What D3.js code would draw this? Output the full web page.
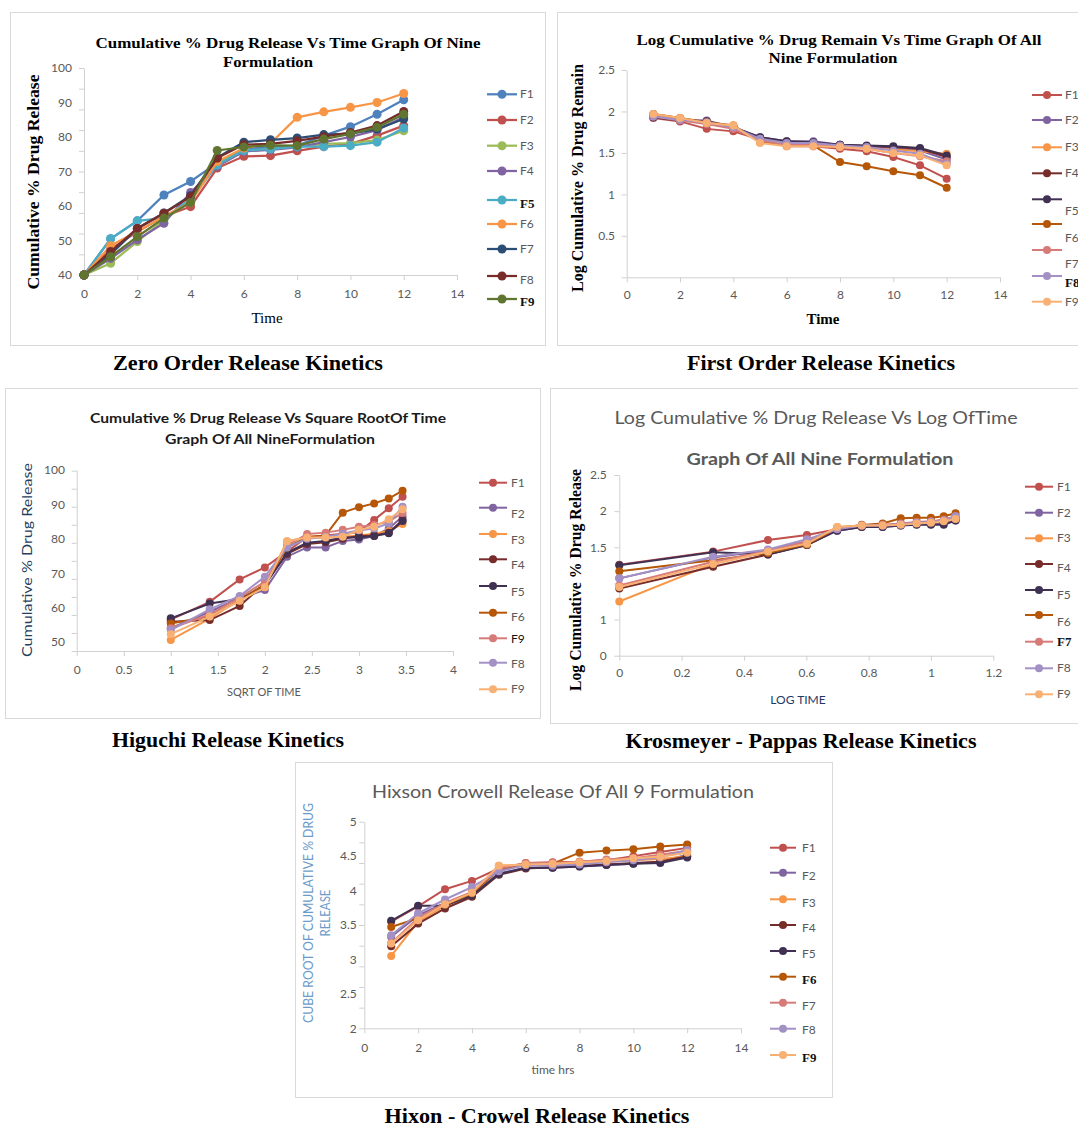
<!DOCTYPE html>
<html lang="en">
<head>
<meta charset="UTF-8">
<title>Release Kinetics of Nine Formulations</title>
<script src="https://d3js.org/d3.v7.min.js"></script>
<style>
  body { margin: 0; background: #fff; }
  svg { display: block; }
</style>
</head>
<body>
<svg id="fig" width="1078" height="1129"></svg>
<script>
// ---- data ----
const names = ["F1", "F2", "F3", "F4", "F5", "F6", "F7", "F8", "F9"];

const timeZero = [0, 1, 2, 3, 4, 5, 6, 7, 8, 9, 10, 11, 12];
const timeHrs = [1, 2, 3, 4, 5, 6, 7, 8, 9, 10, 11, 12];
const sqrtTime = [1, 1.414, 1.732, 2, 2.236, 2.449, 2.646, 2.828, 3, 3.162, 3.317, 3.464];
const logTime = [0, 0.301, 0.477, 0.602, 0.699, 0.778, 0.845, 0.903, 0.954, 1, 1.041, 1.079];

// cumulative % drug release vs time (F1..F9)
const zeroOrder = [
  [40, 50.5, 55.7, 63.2, 67.1, 72.5, 76.5, 77, 77.5, 80.4, 83, 86.6, 90.8],
  [40, 47.5, 52.5, 57, 59.8, 71, 74.4, 74.6, 76, 77.2, 78, 80.4, 83.3],
  [40, 43.4, 49.7, 56, 61.5, 72.5, 76, 76.5, 77.2, 78, 78.2, 79.1, 81.8],
  [40, 44.8, 50.2, 55, 63.9, 71.5, 75.8, 76.3, 77, 78.5, 80, 82, 85.8],
  [40, 50.5, 55.7, 56.5, 62, 71.9, 76.1, 76.5, 77.2, 77.2, 77.5, 78.5, 82.6],
  [40, 48.5, 52.6, 57, 61, 72.9, 76.8, 78.2, 85.7, 87.3, 88.6, 90, 92.6],
  [40, 46, 53.5, 58, 63, 74, 78.5, 79.2, 79.7, 80.7, 81, 82.3, 85.2],
  [40, 46.8, 53.5, 57.9, 62.7, 73.9, 77.8, 78, 78.9, 80.1, 81.3, 83.3, 87.4],
  [40, 45.3, 51.1, 56.5, 61, 76.1, 77.1, 77.6, 77.5, 79.4, 80.9, 82.8, 86.6]
];

// log cumulative % drug remain vs time
const firstOrder = [
  [1.92, 1.88, 1.79, 1.76, 1.66, 1.58, 1.58, 1.55, 1.52, 1.45, 1.35, 1.19],
  [1.94, 1.90, 1.89, 1.81, 1.69, 1.64, 1.64, 1.60, 1.58, 1.56, 1.53, 1.42],
  [1.97, 1.92, 1.87, 1.83, 1.63, 1.59, 1.59, 1.58, 1.56, 1.54, 1.52, 1.49],
  [1.93, 1.90, 1.88, 1.80, 1.68, 1.63, 1.62, 1.60, 1.58, 1.57, 1.55, 1.45],
  [1.93, 1.89, 1.88, 1.81, 1.69, 1.64, 1.63, 1.60, 1.59, 1.58, 1.56, 1.47],
  [1.97, 1.92, 1.87, 1.83, 1.63, 1.59, 1.59, 1.39, 1.34, 1.28, 1.23, 1.08],
  [1.94, 1.89, 1.85, 1.79, 1.65, 1.60, 1.60, 1.57, 1.55, 1.50, 1.46, 1.40],
  [1.94, 1.90, 1.87, 1.81, 1.67, 1.62, 1.62, 1.59, 1.57, 1.53, 1.49, 1.37],
  [1.97, 1.92, 1.86, 1.83, 1.62, 1.58, 1.58, 1.57, 1.55, 1.50, 1.47, 1.35]
];

// cumulative % drug release vs square root of time
const higuchi = [
  [56.5, 61.7, 68.2, 71.7, 76.3, 80.5, 81, 81.5, 82, 85.5, 88.9, 92.2],
  [54, 58.8, 62.8, 65.1, 74.8, 77.5, 77.5, 79.4, 79.8, 80.8, 83, 86.5],
  [50.6, 56.8, 62.3, 66, 79.3, 80.4, 80.4, 80.6, 81, 81.5, 82.3, 84.3],
  [55.9, 56.4, 60.5, 67, 75.6, 78.5, 79, 80, 80.8, 81, 81.8, 85.5],
  [56.9, 61.2, 62.5, 66.5, 76, 78.9, 79.4, 80.4, 80.4, 80.8, 81.6, 85.2],
  [55.4, 57.5, 62, 66.8, 77.5, 80.5, 81, 87.6, 89.2, 90.3, 91.7, 94],
  [54, 58, 63, 67.5, 78, 81.4, 81.8, 82.6, 83.5, 84, 85, 87.5],
  [53.5, 59.5, 63.4, 69, 77.5, 80, 80.5, 81.5, 82.5, 83, 84.5, 89.3],
  [52.3, 57.4, 62, 65.9, 79.3, 80.4, 80.4, 80.6, 82.6, 83.5, 85.7, 88.6]
];

// log cumulative % drug release vs log time
const korsmeyer = [
  [1.26, 1.44, 1.60, 1.67, 1.75, 1.79, 1.80, 1.83, 1.84, 1.85, 1.88, 1.92],
  [1.07, 1.36, 1.46, 1.58, 1.73, 1.78, 1.78, 1.80, 1.82, 1.82, 1.84, 1.87],
  [0.75, 1.27, 1.44, 1.55, 1.78, 1.80, 1.80, 1.81, 1.83, 1.84, 1.86, 1.89],
  [0.93, 1.23, 1.40, 1.53, 1.74, 1.79, 1.79, 1.81, 1.83, 1.84, 1.86, 1.90],
  [1.25, 1.43, 1.40, 1.53, 1.73, 1.78, 1.78, 1.80, 1.81, 1.81, 1.81, 1.87],
  [1.17, 1.32, 1.42, 1.54, 1.76, 1.81, 1.83, 1.90, 1.91, 1.91, 1.93, 1.97],
  [0.97, 1.30, 1.45, 1.58, 1.76, 1.80, 1.81, 1.83, 1.85, 1.86, 1.88, 1.93],
  [1.07, 1.37, 1.47, 1.61, 1.75, 1.80, 1.80, 1.82, 1.84, 1.85, 1.87, 1.93],
  [0.95, 1.27, 1.44, 1.55, 1.78, 1.80, 1.80, 1.81, 1.83, 1.84, 1.86, 1.89]
];

// cube root of cumulative % drug release vs time
const hixson = [
  [3.55, 3.77, 4.02, 4.14, 4.32, 4.40, 4.41, 4.42, 4.44, 4.50, 4.56, 4.62],
  [3.33, 3.64, 3.82, 3.94, 4.25, 4.33, 4.33, 4.35, 4.37, 4.39, 4.42, 4.52],
  [3.05, 3.55, 3.78, 3.96, 4.36, 4.38, 4.39, 4.40, 4.42, 4.44, 4.46, 4.50],
  [3.19, 3.52, 3.74, 3.91, 4.23, 4.32, 4.34, 4.36, 4.38, 4.40, 4.42, 4.50],
  [3.56, 3.78, 3.78, 3.93, 4.24, 4.33, 4.33, 4.35, 4.37, 4.39, 4.40, 4.48],
  [3.47, 3.60, 3.79, 3.96, 4.30, 4.37, 4.39, 4.55, 4.58, 4.60, 4.64, 4.67],
  [3.24, 3.60, 3.82, 3.98, 4.32, 4.40, 4.40, 4.42, 4.45, 4.47, 4.52, 4.58],
  [3.35, 3.67, 3.87, 4.05, 4.28, 4.37, 4.36, 4.38, 4.41, 4.44, 4.48, 4.59],
  [3.23, 3.57, 3.80, 3.97, 4.36, 4.38, 4.39, 4.41, 4.43, 4.47, 4.49, 4.55]
];

// tick labels
const ticks0to14 = [0, 2, 4, 6, 8, 10, 12, 14];
const sqrtTicks = [0, 0.5, 1, 1.5, 2, 2.5, 3, 3.5, 4];
const logTicks = [0, 0.2, 0.4, 0.6, 0.8, 1, 1.2];
const zeroYLabels = [40, 50, 60, 70, 80, 90, 100];
const firstYLabels = [0.5, 1, 1.5, 2, 2.5];
const higuchiYLabels = [50, 60, 70, 80, 90, 100];
const korsYTicks = [0, 0.5, 1, 1.5, 2, 2.5];
const korsYText = ["0", "1", "", "1.5", "2", "2.5"];
const hixsonYLabels = [2, 2.5, 3, 3.5, 4, 4.5, 5];
const higuchiLegend = ["F1", "F2", "F3", "F4", "F5", "F6", "F9", "F8", "F9"];

const zeroColors = ["#4F81BD", "#C0504D", "#9BBB59", "#8064A2", "#4BACC6", "#F79646", "#2C4D75", "#772C2A", "#5F7530"];
const kinColors = ["#C0504D", "#8064A2", "#F79646", "#772C2A", "#403152", "#B65708", "#D77B78", "#A391C6", "#F9B074"];

// ---- drawing ----
const SERIF = '"Liberation Serif", "Times New Roman", serif';
const SANS = 'Lato, "Liberation Sans", sans-serif';
const svg = d3.select("#fig");

function label(g, o) {
  const t = g.append("text")
    .attr("x", o.x).attr("y", o.y)
    .attr("text-anchor", o.anchor || "middle")
    .attr("font-family", o.font || SANS)
    .attr("font-size", o.size || 12)
    .attr("font-weight", o.weight || "normal")
    .attr("fill", o.color || "#000")
    .text(o.text);
  if (o.len) t.attr("textLength", o.len).attr("lengthAdjust", "spacingAndGlyphs");
  if (o.rotate) t.attr("transform", `rotate(-90,${o.x},${o.y})`);
  return t;
}

function styleAxis(a) {
  a.select(".domain").attr("stroke", "#d0d0d0");
  a.selectAll(".tick line").attr("stroke", "#d0d0d0");
  a.selectAll(".tick text")
    .attr("fill", "#595959")
    .attr("font-family", SANS)
    .attr("font-size", 12);
}

function drawPanel(p) {
  const g = svg.append("g");
  g.append("rect")
    .attr("x", p.box[0] + 0.5).attr("y", p.box[1] + 0.5)
    .attr("width", p.box[2] - p.box[0]).attr("height", p.box[3] - p.box[1])
    .attr("fill", "#fff").attr("stroke", "#d9d9d9");

  const x = d3.scaleLinear().domain(p.xDomain).range(p.xRange);
  const y = d3.scaleLinear().domain(p.yDomain).range(p.yRange);

  g.append("g")
    .attr("transform", `translate(0,${p.yRange[0]})`)
    .call(d3.axisBottom(x).tickValues(p.xTicks).tickFormat(d => String(d))
      .tickSize(5).tickSizeOuter(0).tickPadding(p.xPad))
    .call(styleAxis);

  // tick marks on the value axis
  g.append("g")
    .attr("transform", `translate(${p.xRange[0]},0)`)
    .call(d3.axisLeft(y).tickValues(p.yMarks).tickFormat("").tickSize(5).tickSizeOuter(0))
    .call(styleAxis);

  // value axis labels
  g.append("g")
    .attr("transform", `translate(${p.xRange[0]},0)`)
    .call(d3.axisLeft(y).tickValues(p.yLabels).tickFormat(p.yFormat || (d => String(d)))
      .tickSize(0).tickPadding(p.yPad))
    .call(a => a.select(".domain").remove())
    .call(styleAxis);

  const line = d3.line()
    .x((d, i) => x(p.xs[i]))
    .y(d => y(d));

  p.series.forEach((s, k) => {
    g.append("path")
      .attr("d", line(s))
      .attr("fill", "none")
      .attr("stroke", p.colors[k])
      .attr("stroke-width", p.lw);
    g.append("g").selectAll("circle")
      .data(s)
      .join("circle")
      .attr("cx", (d, i) => x(p.xs[i]))
      .attr("cy", d => y(d))
      .attr("r", p.r)
      .attr("fill", p.colors[k]);
  });

  // legend
  const lg = p.legend;
  p.colors.forEach((c, k) => {
    const ly = lg.rows[k];
    g.append("line")
      .attr("x1", lg.x1).attr("x2", lg.x2)
      .attr("y1", ly).attr("y2", ly)
      .attr("stroke", c).attr("stroke-width", p.lw);
    g.append("circle")
      .attr("cx", (lg.x1 + lg.x2) / 2).attr("cy", ly)
      .attr("r", p.r).attr("fill", c);
    const serif = (lg.serif || []).includes(k);
    const dark = (lg.dark || []).includes(k);
    label(g, {
      text: (lg.names || names)[k],
      x: lg.tx, y: ly + 4 + (lg.dy ? lg.dy[k] : 0),
      anchor: "start",
      font: serif ? SERIF : SANS,
      weight: serif ? "bold" : "normal",
      size: serif ? 13 : 12,
      color: serif || dark ? "#111" : "#595959"
    });
  });

  p.texts.forEach(t => label(g, t));
}

// Zero order
drawPanel({
  box: [10, 12, 545, 345],
  xDomain: [0, 14], xRange: [84, 457],
  yDomain: [40, 100], yRange: [275, 68],
  xTicks: ticks0to14, xPad: 9,
  yMarks: [40, 46, 52, 58, 64, 70, 76, 82, 88, 94, 100],
  yLabels: zeroYLabels, yPad: 12,
  xs: timeZero, series: zeroOrder, colors: zeroColors, lw: 2.25, r: 4.5,
  legend: { x1: 487, x2: 517, tx: 520,
    rows: [94.3, 120, 145.7, 171, 200, 224, 249, 276, 299],
    dy: [0, 0, 0, 0, 4, 0, 0, 4, 3], serif: [4, 8] },
  texts: [
    { text: "Cumulative % Drug Release Vs Time Graph Of Nine", x: 288, y: 48, font: SERIF, weight: "bold", size: 15, len: 385 },
    { text: "Formulation", x: 268, y: 67, font: SERIF, weight: "bold", size: 15, len: 90 },
    { text: "Cumulative % Drug Release", x: 39, y: 182, font: SERIF, weight: "bold", size: 16, len: 215, rotate: true },
    { text: "Time", x: 267, y: 323, font: SERIF, size: 15 },
    { text: "Zero Order Release Kinetics", x: 248, y: 370, font: SERIF, weight: "bold", size: 20, len: 270 }
  ]
});

// First order
drawPanel({
  box: [557, 12, 1078, 345],
  xDomain: [0, 14], xRange: [626.7, 1000],
  yDomain: [0, 2.5], yRange: [277.3, 70],
  xTicks: ticks0to14, xPad: 8.5,
  yMarks: [0, 0.5, 1, 1.5, 2, 2.5],
  yLabels: firstYLabels, yPad: 11.7,
  xs: timeHrs, series: firstOrder, colors: kinColors, lw: 2, r: 4,
  legend: { x1: 1032, x2: 1062, tx: 1065,
    rows: [95, 120, 147.3, 173.3, 199.3, 224, 250, 276, 301.7],
    dy: [0, 0, 0, 0, 12, 14, 14, 7, 0], serif: [7] },
  texts: [
    { text: "Log Cumulative % Drug Remain Vs Time Graph Of All", x: 839, y: 45, font: SERIF, weight: "bold", size: 15, len: 405 },
    { text: "Nine Formulation", x: 833, y: 63, font: SERIF, weight: "bold", size: 15, len: 129 },
    { text: "Log Cumulative % Drug Remain", x: 583, y: 178, font: SERIF, weight: "bold", size: 16, len: 228, rotate: true },
    { text: "Time", x: 823, y: 324, font: SERIF, weight: "bold", size: 15 },
    { text: "First Order Release Kinetics", x: 821, y: 370, font: SERIF, weight: "bold", size: 20, len: 268 }
  ]
});

// Higuchi
drawPanel({
  box: [5, 388, 540, 718],
  xDomain: [0, 4], xRange: [76.7, 453],
  yDomain: [47.4, 100], yRange: [651, 470],
  xTicks: sqrtTicks, xPad: 9,
  yMarks: [47.4, 52.64, 57.88, 63.12, 68.36, 73.6, 78.84, 84.08, 89.32, 94.56, 99.8],
  yLabels: higuchiYLabels, yPad: 11.7,
  xs: sqrtTime, series: higuchi, colors: kinColors, lw: 2, r: 4,
  legend: { x1: 479, x2: 507, tx: 511, names: higuchiLegend,
    rows: [482.7, 507.7, 534, 559.3, 586, 612.7, 638.3, 662.7, 689.3],
    dy: [0, 6, 6, 6, 6, 4, 1, 1, 0], dark: [6] },
  texts: [
    { text: "Cumulative % Drug Release Vs Square RootOf Time", x: 268, y: 423, font: SANS, weight: "bold", size: 14, color: "#1a1a1a", len: 356 },
    { text: "Graph Of All NineFormulation", x: 270, y: 444, font: SANS, weight: "bold", size: 14, color: "#1a1a1a", len: 210 },
    { text: "Cumulative % Drug Release", x: 32, y: 560, font: SANS, size: 14, color: "#243F60", len: 194, rotate: true },
    { text: "SQRT OF TIME", x: 264, y: 696, font: SANS, size: 11, color: "#595959" },
    { text: "Higuchi Release Kinetics", x: 228, y: 747, font: SERIF, weight: "bold", size: 20, len: 232 }
  ]
});

// Korsmeyer - Peppas
drawPanel({
  box: [550, 388, 1078, 723],
  xDomain: [0, 1.2], xRange: [619.3, 993.3],
  yDomain: [0, 2.5], yRange: [655.7, 475],
  xTicks: logTicks, xPad: 8,
  yMarks: korsYTicks,
  yLabels: korsYTicks, yFormat: (d, i) => korsYText[i], yPad: 12.6,
  xs: logTime, series: korsmeyer, colors: kinColors, lw: 2, r: 4,
  legend: { x1: 1025, x2: 1053, tx: 1057,
    rows: [486.7, 512.7, 538.3, 564, 590, 615, 641.7, 668.3, 694.3],
    dy: [0, 0, 0, 4, 5, 7, 0, 0, 0], serif: [6] },
  texts: [
    { text: "Log Cumulative % Drug Release Vs Log OfTime", x: 816, y: 424, font: SANS, size: 17, color: "#595959", len: 403 },
    { text: "Graph Of All Nine Formulation", x: 820, y: 465, font: SANS, weight: "bold", size: 17, color: "#595959", len: 267 },
    { text: "Log Cumulative % Drug Release", x: 581, y: 580, font: SERIF, weight: "bold", size: 16, len: 222, rotate: true },
    { text: "LOG TIME", x: 798, y: 704, font: SANS, size: 12, color: "#1F3864" },
    { text: "Krosmeyer - Pappas Release Kinetics", x: 801, y: 748, font: SERIF, weight: "bold", size: 20, len: 351 }
  ]
});

// Hixson - Crowell
drawPanel({
  box: [295, 762, 832, 1097],
  xDomain: [0, 14], xRange: [364.3, 741],
  yDomain: [2, 5], yRange: [1028.3, 821.7],
  xTicks: ticks0to14, xPad: 10.5,
  yMarks: [2, 2.3, 2.6, 2.9, 3.2, 3.5, 3.8, 4.1, 4.4, 4.7, 5],
  yLabels: hixsonYLabels, yPad: 7.6,
  xs: timeHrs, series: hixson, colors: kinColors, lw: 2, r: 4,
  legend: { x1: 770, x2: 796, tx: 802,
    rows: [847.7, 872.7, 899.3, 925, 951, 976.7, 1002.7, 1028.7, 1055],
    dy: [0, 3, 4, 3, 3, 3, 3, 1, 3], serif: [5, 8] },
  texts: [
    { text: "Hixson Crowell Release Of All 9 Formulation", x: 563, y: 798, font: SANS, size: 17, color: "#595959", len: 382 },
    { text: "CUBE ROOT OF CUMULATIVE % DRUG", x: 313, y: 913, font: SANS, size: 13, color: "#6C9BC8", len: 220, rotate: true },
    { text: "RELEASE", x: 330, y: 913, font: SANS, size: 13, color: "#6C9BC8", len: 47, rotate: true },
    { text: "time hrs", x: 553, y: 1074, font: SANS, size: 12, color: "#595959" },
    { text: "Hixon - Crowel Release Kinetics", x: 537, y: 1123, font: SERIF, weight: "bold", size: 20, len: 305 }
  ]
});
</script>
</body>
</html>
